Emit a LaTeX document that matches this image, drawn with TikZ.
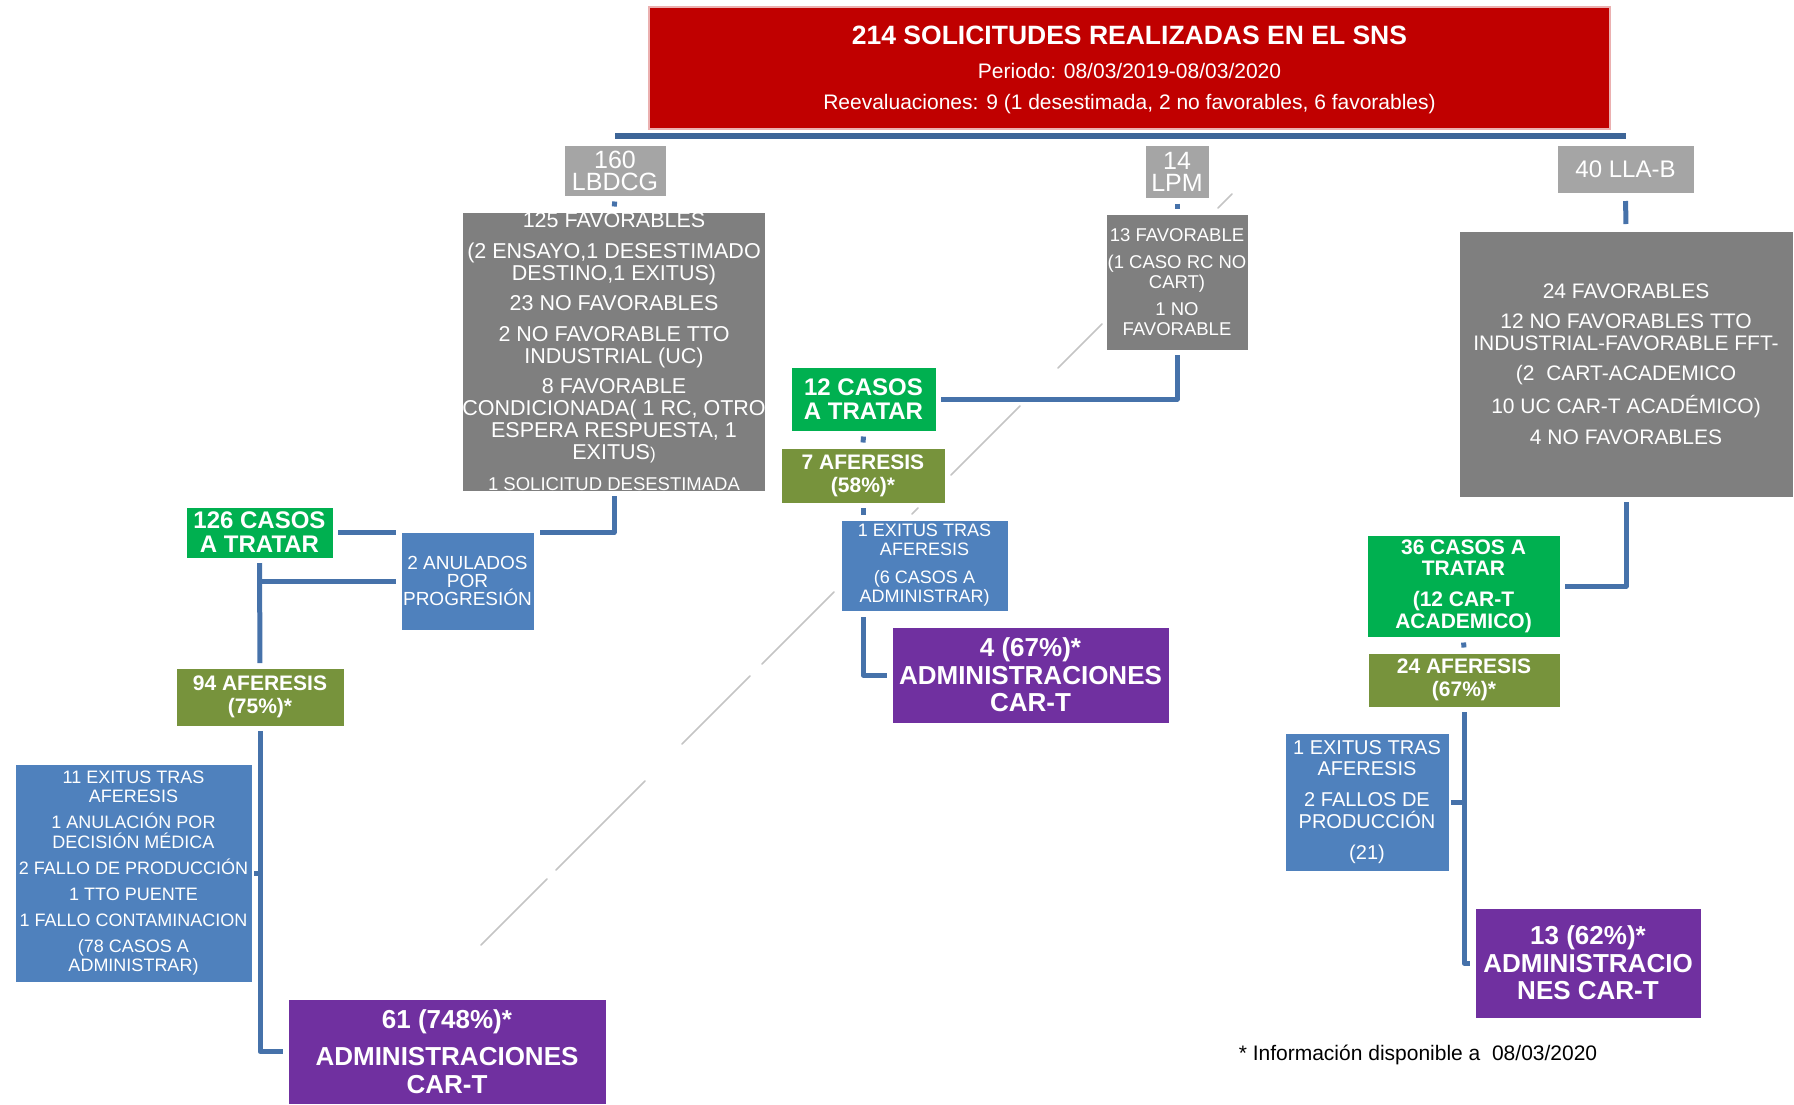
\documentclass[tikz,border=0pt]{standalone}
\usepackage{fontspec}
\setmainfont{Liberation Sans}
\usetikzlibrary{calc}
\definecolor{cRed}{HTML}{C00000}
\definecolor{cLight}{HTML}{A5A5A5}
\definecolor{cDark}{HTML}{7F7F7F}
\definecolor{cGreen}{HTML}{00B050}
\definecolor{cOlive}{HTML}{77933C}
\definecolor{cBlue}{HTML}{4F81BD}
\definecolor{cPurple}{HTML}{7030A0}
\definecolor{cLine}{HTML}{4672AA}
\definecolor{cHLine}{HTML}{3D6597}
\definecolor{cPink}{HTML}{EBB0B0}
\definecolor{cFaint}{HTML}{C4C4C4}
\pgfdeclarelayer{bg}
\pgfsetlayers{bg,main}
\begin{document}
\begin{tikzpicture}[x=1pt,y=-1pt,
  box/.style={rectangle, inner sep=0pt, outer sep=0pt, align=center, text=white, draw=white, line width=1pt},
  knock/.style={preaction={draw=white, line width=11pt}},
  conn/.style={draw=cLine, line width=5pt, shorten <=5pt, shorten >=5pt, line join=round},
  stub/.style={draw=cLine, line width=5pt, shorten <=5.5pt, shorten >=5.5pt},
  hline/.style={draw=cHLine, line width=6pt},
  faint/.style={draw=cFaint, line width=1.5pt, line cap=round},
  tCat/.style={font=\fontsize{25}{22}\selectfont},
  tBig/.style={font=\fontsize{21.5}{22}\selectfont},
  tGreen/.style={font=\fontsize{24}{24}\selectfont\bfseries},
  tOlive/.style={font=\fontsize{21}{23}\selectfont\bfseries},
  tPurple/.style={font=\fontsize{26}{27.5}\selectfont\bfseries}
]
\useasboundingbox (0,0) rectangle (1794,1104);

% header
\node[box, fill=cRed, draw=cPink, line width=1.5pt, minimum width=961pt, minimum height=122pt] (hdr) at (1129.5,68) {};
\node[inner sep=0pt, text=white, align=center, font=\fontsize{21}{31}\selectfont] (hdrtxt) at (1129.5,70)
  {{\fontsize{26.5}{31}\selectfont\bfseries 214 SOLICITUDES REALIZADAS EN EL SNS}\\[3pt]
   Periodo: 08/03/2019-08/03/2020\\
   Reevaluaciones: 9 (1 desestimada, 2 no favorables, 6 favorables)};

% categories
\node[box, fill=cLight, tCat, minimum width=102pt, minimum height=51pt] (lb) at (615,170.5) {160\\LBDCG};
\node[box, fill=cLight, tCat, minimum width=64pt, minimum height=53pt] (lp) at (1177,171.5) {14\\LPM};
\node[box, fill=cLight, font=\fontsize{24}{24}\selectfont, minimum width=137pt, minimum height=48pt] (ll) at (1625.5,169) {40 LLA-B};

% detail boxes
\node[box, fill=cDark, tBig, minimum width=302pt, minimum height=279pt] (lbd) at (614,351.5)
  {125 FAVORABLES\\[8.5pt]
   (2 ENSAYO,1 DESESTIMADO\\ DESTINO,1 EXITUS)\\[8.5pt]
   23 NO FAVORABLES\\[8.5pt]
   2 NO FAVORABLE TTO\\ INDUSTRIAL (UC)\\[8.5pt]
   8 FAVORABLE\\ CONDICIONADA( 1 RC, OTRO\\ ESPERA RESPUESTA, 1\\ EXITUS{\fontsize{17}{22}\selectfont)}\\[8.5pt]
   {\fontsize{18.5}{22}\selectfont 1 SOLICITUD DESESTIMADA}};
\node[box, fill=cDark, font=\fontsize{18.5}{19.5}\selectfont, minimum width=142pt, minimum height=136pt] (lpd) at (1177,282)
  {13 FAVORABLE\\[8pt] (1 CASO RC NO\\ CART)\\[8pt] 1 NO\\ FAVORABLE};
\node[box, fill=cDark, font=\fontsize{21}{21.5}\selectfont, minimum width=334pt, minimum height=266pt] (lld) at (1626,364)
  {24 FAVORABLES\\[9pt]
   12 NO FAVORABLES TTO\\ INDUSTRIAL-FAVORABLE FFT-\\[9pt]
   (2~~CART-ACADEMICO\\[9pt]
   10 UC CAR-T ACADÉMICO)\\[9pt]
   4 NO FAVORABLES};

% green
\node[box, fill=cGreen, tGreen, minimum width=145pt, minimum height=64pt] (c12) at (863.5,399) {12 CASOS\\A TRATAR};
\node[box, fill=cGreen, tGreen, minimum width=147pt, minimum height=51pt] (c126) at (259.5,532.5) {126 CASOS\\A TRATAR};
\node[box, fill=cGreen, font=\fontsize{21}{21.7}\selectfont\bfseries, minimum width=193pt, minimum height=102pt] (c36) at (1463.5,586)
  {36 CASOS A\\TRATAR\\[9pt](12 CAR-T\\ACADEMICO)};

% olive
\node[box, fill=cOlive, tOlive, minimum width=164pt, minimum height=55pt] (af7) at (863,475.5) {7 AFERESIS\\(58\%)*};
\node[box, fill=cOlive, tOlive, minimum width=168pt, minimum height=58pt] (af94) at (260,697) {94 AFERESIS\\(75\%)*};
\node[box, fill=cOlive, tOlive, minimum width=192pt, minimum height=54pt] (af24) at (1464,680) {24 AFERESIS\\(67\%)*};

% blue
\node[box, knock, fill=cBlue, font=\fontsize{19}{18.3}\selectfont, minimum width=133pt, minimum height=98pt] (an2) at (467.5,581)
  {2 ANULADOS\\POR\\PROGRESIÓN};
\node[box, knock, fill=cBlue, font=\fontsize{18}{19}\selectfont, minimum width=167pt, minimum height=91pt] (ex1) at (924.5,565.5)
  {1 EXITUS TRAS\\AFERESIS\\[9pt](6 CASOS A\\ADMINISTRAR)};
\node[box, fill=cBlue, font=\fontsize{18}{19.5}\selectfont, minimum width=237pt, minimum height=218pt] (ex11) at (133.5,873)
  {11 EXITUS TRAS\\AFERESIS\\[6.5pt]
   1 ANULACIÓN POR\\DECISIÓN MÉDICA\\[6.5pt]
   2 FALLO DE PRODUCCIÓN\\[6.5pt]
   1 TTO PUENTE\\[6.5pt]
   1 FALLO CONTAMINACION\\[6.5pt]
   (78 CASOS A\\ADMINISTRAR)};
\node[box, fill=cBlue, font=\fontsize{20}{21.7}\selectfont, minimum width=164pt, minimum height=138pt] (ex21) at (1367,802)
  {1 EXITUS TRAS\\AFERESIS\\[9.3pt]2 FALLOS DE\\PRODUCCIÓN\\[9.3pt](21)};

% purple
\node[box, fill=cPurple, tPurple, minimum width=277pt, minimum height=96pt] (p4) at (1030.5,675) {4 (67\%)*\\ADMINISTRACIONES\\CAR-T};
\node[box, fill=cPurple, tPurple, minimum width=318pt, minimum height=105pt] (p61) at (447,1051.5) {61 (748\%)*\\[10pt]ADMINISTRACIONES\\CAR-T};
\node[box, fill=cPurple, tPurple, minimum width=226pt, minimum height=110pt] (p13) at (1588,963) {13 (62\%)*\\ADMINISTRACIO\\NES CAR-T};

% footnote
\node[inner sep=0pt, font=\fontsize{21}{24}\selectfont] (note) at (1418,1055) {* Información disponible a~~08/03/2020};

\begin{pgfonlayer}{bg}
  \draw[hline] ($(lb.north)+(0,-9)$) -- ($(ll.north)+(0,-9)$);
  \draw[stub] (lb.south) -- (lbd.north);
  \draw[stub] (lp.south) -- (lpd.north);
  \draw[conn, shorten <=8pt, shorten >=7pt] (ll.south) -- (lld.north);
  \draw[conn] (lbd.south) |- (c126.east);
  \draw[conn] (c126.south) -- (af94.north);
  \draw[conn, shorten <=0pt] (c126.south |- an2.west) -- (an2.west);
  \draw[conn] (af94.south) |- (p61.west);
  \draw[conn, shorten <=0pt, shorten >=2pt] (af94.south |- ex11.east) -- (ex11.east);
  \draw[conn] (lpd.south) |- (c12.east);
  \draw[stub] (c12.south) -- (af7.north);
  \draw[conn] (af7.south) |- (p4.west);
  \draw[conn] (lld.south) |- (c36.east);
  \draw[stub] (c36.south) -- (af24.north);
  \draw[conn] (af24.south) |- (p13.west);
  \draw[conn, shorten <=0pt, shorten >=2pt] (af24.south |- ex21.east) -- (ex21.east);
\end{pgfonlayer}

% faint diagonal remnants
\draw[faint] (1232,194) -- (1218,208);
\draw[faint] (1102,324) -- (1058,368);
\draw[faint] (1020,406) -- (951,475);
\draw[faint] (918,508) -- (912,514);
\draw[faint] (834,592) -- (762,664);
\draw[faint] (750,676) -- (682,744);
\draw[faint] (645,781) -- (556,870);
\draw[faint] (547,879) -- (481,945);
\end{tikzpicture}
\end{document}
